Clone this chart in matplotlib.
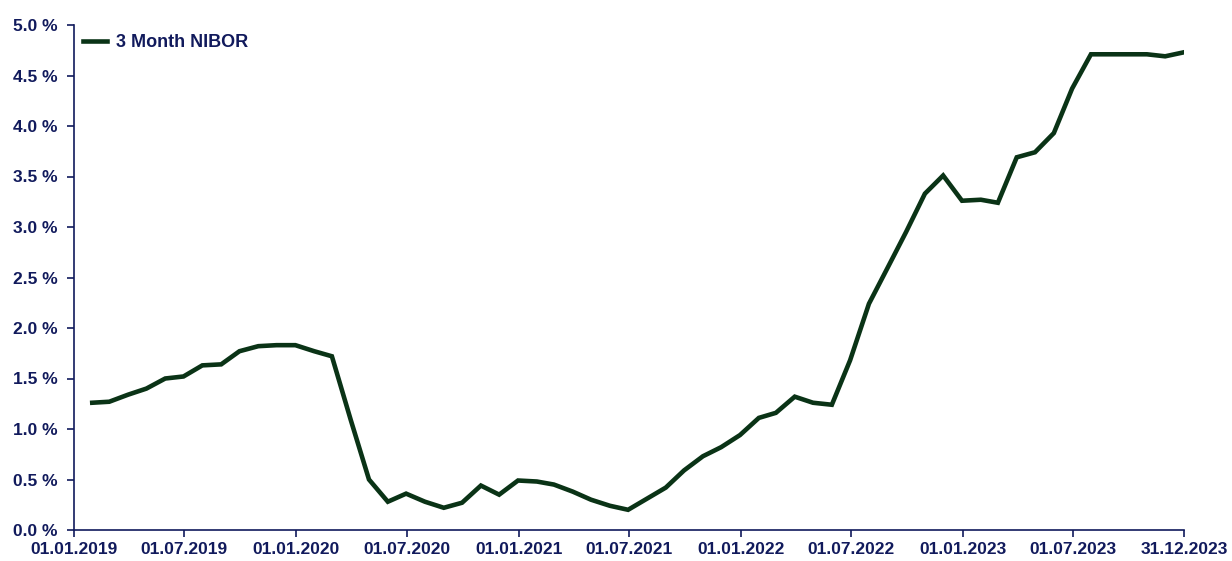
import matplotlib.pyplot as plt
import pandas as pd
from matplotlib.ticker import FuncFormatter

# month-end 3M NIBOR fixings, in percent
dates = pd.date_range("2019-01-31", "2023-12-31", freq="ME")
nibor = [
    1.26, 1.27, 1.34, 1.40, 1.50, 1.52, 1.63, 1.64, 1.77, 1.82, 1.83, 1.83,  # 2019
    1.77, 1.72, 1.09, 0.50, 0.28, 0.36, 0.28, 0.22, 0.27, 0.44, 0.35, 0.49,  # 2020
    0.48, 0.45, 0.38, 0.30, 0.24, 0.20, 0.31, 0.42, 0.59, 0.73, 0.82, 0.94,  # 2021
    1.11, 1.16, 1.32, 1.26, 1.24, 1.68, 2.24, 2.60, 2.95, 3.33, 3.51, 3.26,  # 2022
    3.27, 3.24, 3.69, 3.74, 3.93, 4.37, 4.71, 4.71, 4.71, 4.71, 4.69, 4.73,  # 2023
]
tick_dates = ["2019-01-01", "2019-07-01", "2020-01-01", "2020-07-01", "2021-01-01",
              "2021-07-01", "2022-01-01", "2022-07-01", "2023-01-01", "2023-07-01",
              "2023-12-31"]
y_ticks = [0.0, 0.5, 1.0, 1.5, 2.0, 2.5, 3.0, 3.5, 4.0, 4.5, 5.0]

navy = "#111a5c"
green = "#0a3316"

plt.rcParams["font.family"] = ["Liberation Sans", "DejaVu Sans"]

fig = plt.figure(figsize=(12.32, 5.61), dpi=100)
ax = fig.add_axes([74 / 1232, 31 / 561, 1110 / 1232, 505 / 561])

ax.plot(dates, nibor, color=green, linewidth=3.3, solid_joinstyle="miter",
        label="3 Month NIBOR")

ax.set_xlim(pd.Timestamp("2019-01-01"), pd.Timestamp("2023-12-31"))
ax.set_ylim(0, 5)

ticks = pd.to_datetime(tick_dates)
ax.set_xticks(ticks)
ax.set_xticklabels([t.strftime("%d.%m.%Y") for t in ticks])
ax.set_yticks(y_ticks)
ax.yaxis.set_major_formatter(FuncFormatter(lambda v, p: f"{v:.1f} %"))

for s in ["top", "right"]:
    ax.spines[s].set_visible(False)
for s in ["left", "bottom"]:
    ax.spines[s].set_color(navy)
    ax.spines[s].set_linewidth(1.2)

ax.tick_params(axis="both", direction="out", length=5, width=1.2, color=navy,
               labelcolor=navy, labelsize=12.5)
ax.tick_params(axis="y", pad=7)
ax.tick_params(axis="x", pad=4)
for lbl in ax.get_xticklabels() + ax.get_yticklabels():
    lbl.set_fontweight("bold")

leg = ax.legend(loc="upper left", frameon=False, handlelength=1.3,
                handletextpad=0.55, bbox_to_anchor=(0.0, 1.0), borderaxespad=0.1,
                prop={"weight": "bold", "size": 13})
for t in leg.get_texts():
    t.set_color(navy)

fig.savefig("out.png", dpi=100)
